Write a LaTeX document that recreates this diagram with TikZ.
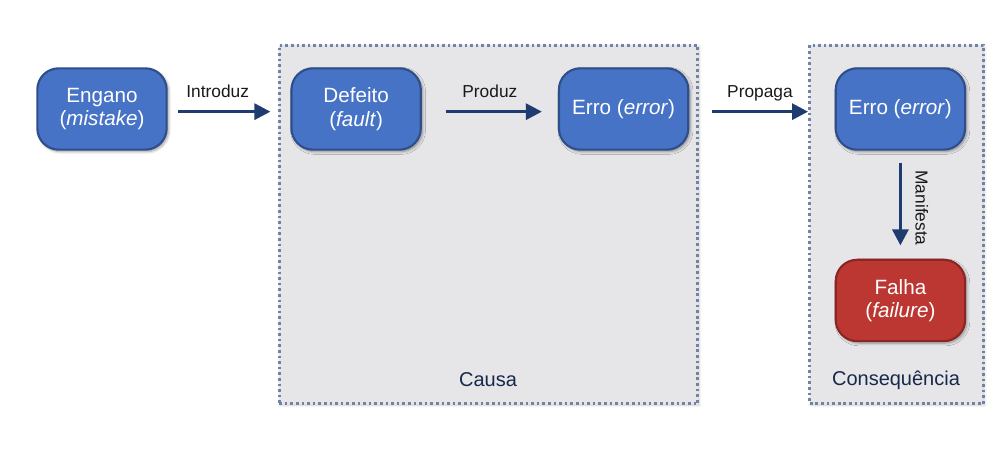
\documentclass[tikz,border=0pt]{standalone}
\usepackage{fontspec}
\setmainfont{Liberation Sans}
\usetikzlibrary{positioning,arrows.meta,shadows.blur}
\definecolor{boxblue}{HTML}{4673C5}
\definecolor{edgeblue}{HTML}{2F4F8A}
\definecolor{boxred}{HTML}{BC3632}
\definecolor{edgered}{HTML}{8A2624}
\definecolor{areagray}{HTML}{E6E6E9}
\definecolor{dotgray}{HTML}{7282A4}
\definecolor{arrnavy}{HTML}{1E3C70}
\definecolor{txtnavy}{HTML}{17294A}

\begin{document}
\begin{tikzpicture}[
    x=0.75pt, y=-0.75pt,
    node distance = 92pt,
    termstyle/.style = {draw=edgeblue,
                        line width=1.6pt,
                        fill=boxblue,
                        rounded corners=16pt,
                        minimum width=97pt,
                        minimum height=61pt,
                        align=center,
                        text=white,
                        font=\fontsize{15.5}{17.5}\selectfont,
                        blur shadow={shadow xshift=1.4pt, shadow yshift=-1.4pt,
                                     shadow blur steps=6, shadow opacity=40}},
    failstyle/.style = {termstyle,
                        draw=edgered,
                        fill=boxred},
    areastyle/.style = {draw=dotgray,
                        fill=areagray,
                        line width=2.1pt,
                        dash pattern=on 2pt off 2.2pt,
                        inner sep=0pt,
                        blur shadow={shadow xshift=1pt, shadow yshift=-1pt,
                                     shadow blur steps=4, shadow opacity=20}},
    verbstyle/.style = {font=\fontsize{13}{15}\selectfont,
                        text depth=0pt,
                        text=black!90},
    arr/.style       = {line width=2.3pt,
                        draw=arrnavy,
                        -{Triangle[length=12pt,width=12pt]}}
]
\useasboundingbox (0,0) rectangle (1006,463);

% grey areas
\node (causa) [areastyle, minimum width=314pt, minimum height=269pt] at (488.5,224.5) {};
\node (conseq) [areastyle, minimum width=130pt, minimum height=269pt] at (896.5,224.5) {};
\node (causalbl) [font=\fontsize{15}{18}\selectfont, text=txtnavy] at (488,380) {Causa};
\node (conseqlbl) [font=\fontsize{15}{18}\selectfont, text=txtnavy] at (896,380) {Consequência};

% terms
\node (engano) [termstyle] at (102,109) {Engano\\(\textit{mistake})};
\node (defeito) [termstyle, right=of engano] {Defeito\\(\textit{fault})};
\node (erro) [termstyle, right=102pt of defeito] {Erro (\textit{error})};
\node (erro2) [termstyle, right=109pt of erro] {Erro (\textit{error})};
\node (falha) [failstyle, below=81pt of erro2] {Falha\\(\textit{failure})};

% verbs
\draw[arr] ([xshift=8pt,yshift=-2pt]engano.east) -- node[verbstyle, above=6pt, xshift=-5pt] {Introduz} ([xshift=-15pt,yshift=-2pt]defeito.west);
\draw[arr] ([xshift=18pt,yshift=-2pt]defeito.east) -- node[verbstyle, above=6pt, xshift=-3pt] {Produz} ([xshift=-12pt,yshift=-2pt]erro.west);
\draw[arr] ([xshift=17pt,yshift=-2pt]erro.east) -- node[verbstyle, above=6pt] {Propaga} ([xshift=-20pt,yshift=-2pt]erro2.west);
\draw[arr] ([yshift=-9pt]erro2.south) -- node[verbstyle, rotate=-90, anchor=south, outer sep=8pt, xshift=3pt] {Manifesta} ([yshift=10pt]falha.north);

\end{tikzpicture}
\end{document}
